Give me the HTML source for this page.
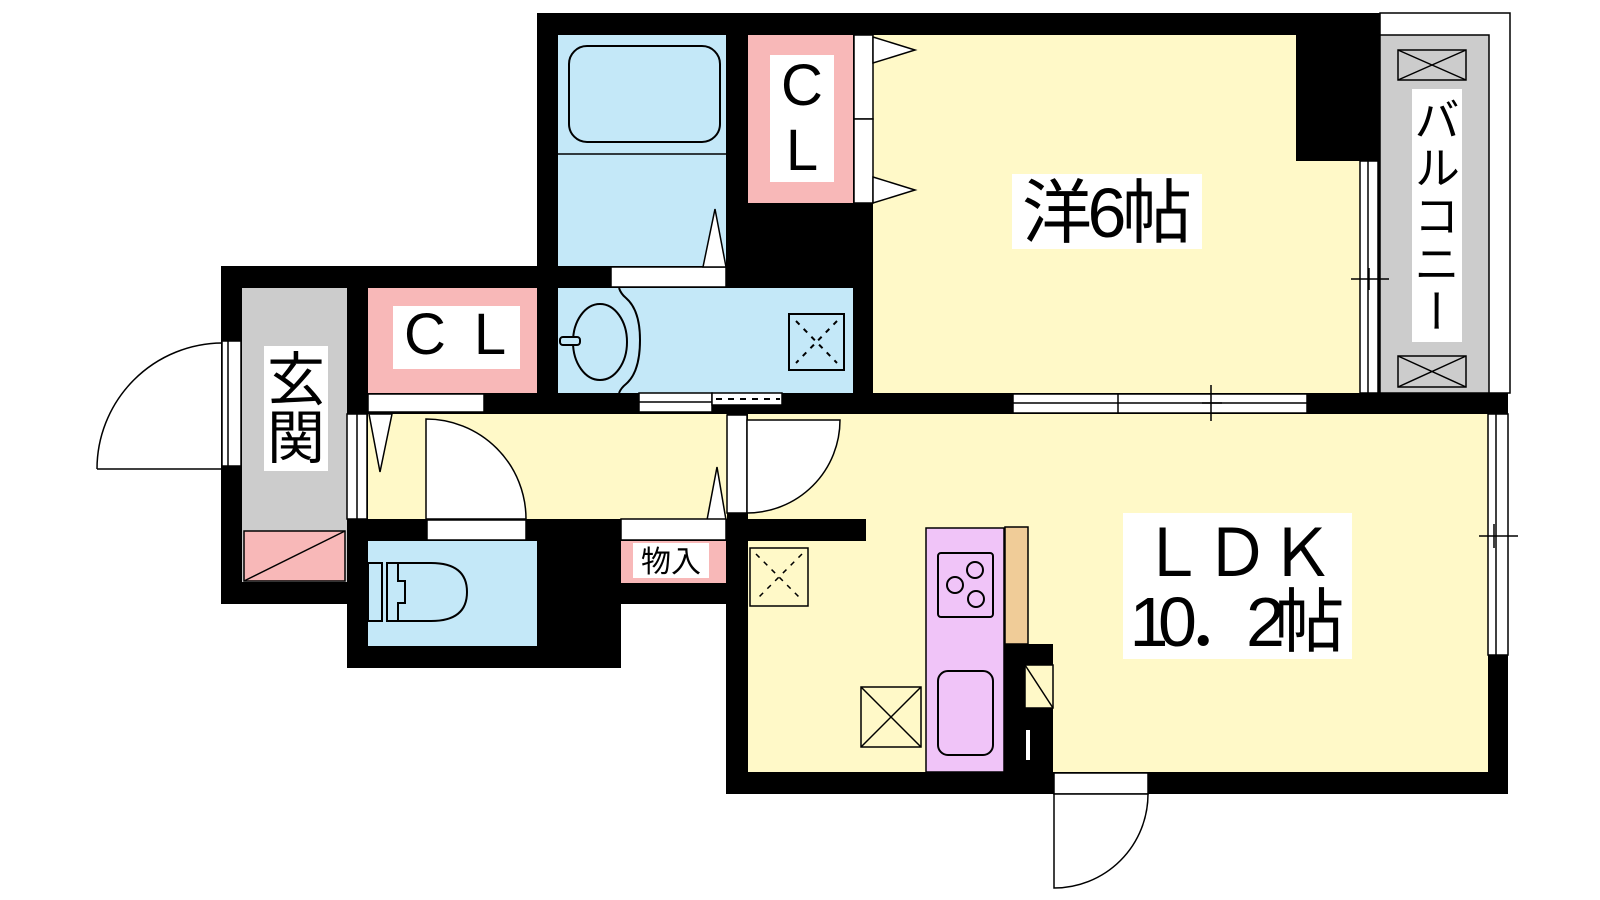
<!DOCTYPE html>
<html><head><meta charset="utf-8"><style>
html,body{margin:0;padding:0;background:#fff;width:1600px;height:900px;overflow:hidden}
svg{position:absolute;left:0;top:0}
.t{font-family:"Liberation Sans","Noto Sans CJK JP",sans-serif;fill:#000}
.vb{position:absolute;left:1412px;top:89px;width:50px;height:253px;background:#fff;writing-mode:vertical-rl;font-family:"Noto Sans CJK JP",sans-serif;font-size:46px;line-height:50px;text-align:center;color:#000;letter-spacing:2px}
</style></head><body>
<svg width="1600" height="900" viewBox="0 0 1600 900" xmlns="http://www.w3.org/2000/svg">
<!-- black walls -->
<g fill="#000">
<rect x="537" y="13" width="843" height="401"/>
<rect x="221" y="266" width="507" height="148"/>
<rect x="221" y="266" width="147" height="338"/>
<rect x="347" y="414" width="274" height="254"/>
<rect x="621" y="519" width="107" height="85"/>
<rect x="726" y="393" width="782" height="401"/>
</g>
<!-- balcony -->
<rect x="1380" y="13" width="130" height="380" fill="#fff" stroke="#000" stroke-width="1.5"/>
<rect x="1380" y="35" width="109" height="358" fill="#cccccc" stroke="#000" stroke-width="1.5"/>
<g fill="none" stroke="#000" stroke-width="1.5">
<rect x="1398" y="50" width="68" height="30"/><path d="M1398 50L1466 80M1466 50L1398 80"/>
<rect x="1398" y="356" width="68" height="31"/><path d="M1398 356L1466 387M1466 356L1398 387"/>
</g>
<!-- rooms -->
<rect x="558" y="35" width="168" height="231" fill="#c4e8f8"/>
<line x1="558" y1="154" x2="726" y2="154" stroke="#000" stroke-width="1.5"/>
<rect x="569" y="46" width="151" height="96" rx="18" fill="none" stroke="#000" stroke-width="2"/>
<rect x="748" y="35" width="105" height="168" fill="#f8b8b8"/>
<rect x="770" y="55" width="64" height="127" fill="#fff"/>
<text class="t" x="802" y="105" font-size="58" text-anchor="middle">C</text>
<text class="t" x="802" y="170" font-size="58" text-anchor="middle">L</text>
<rect x="873" y="35" width="423" height="358" fill="#fff9c8"/>
<rect x="1296" y="161" width="64" height="232" fill="#fff9c8"/>
<rect x="558" y="288" width="295" height="105" fill="#c4e8f8"/>
<rect x="242" y="288" width="105" height="294" fill="#cccccc"/>
<rect x="368" y="288" width="169" height="105" fill="#f8b8b8"/>
<rect x="368" y="414" width="359" height="105" fill="#fff9c8"/>
<rect x="368" y="541" width="169" height="105" fill="#c4e8f8"/>
<rect x="621" y="541" width="105" height="42" fill="#f8b8b8"/>
<rect x="748" y="414" width="740" height="358" fill="#fff9c8"/>
<rect x="726" y="519" width="140" height="22" fill="#000"/>
<!-- strips / windows -->
<g fill="#fff" stroke="#000" stroke-width="1.5">
<rect x="854" y="35" width="19" height="84"/><rect x="854" y="119" width="19" height="84"/>
<path d="M873 37L915 50L873 63Z"/><path d="M873 177L915 190L873 203Z"/>
<rect x="611" y="267" width="115" height="20"/>
<path d="M703 267L715 209L726 267Z"/>
<rect x="1360" y="161" width="18" height="232"/><line x1="1368" y1="161" x2="1368" y2="393"/>
<rect x="1013" y="394" width="294" height="19"/><line x1="1013" y1="403" x2="1307" y2="403"/><line x1="1118" y1="394" x2="1118" y2="413"/>
<rect x="1488" y="414" width="20" height="241"/><line x1="1496" y1="414" x2="1496" y2="655"/>
<rect x="368" y="394" width="116" height="18"/>
<rect x="639" y="393" width="73" height="19"/><line x1="639" y1="402" x2="712" y2="402"/>
<rect x="712" y="393" width="70" height="12"/>
<rect x="347" y="414" width="20" height="105"/><line x1="357" y1="414" x2="357" y2="519"/>
<rect x="222" y="341" width="19" height="125"/><line x1="228" y1="341" x2="228" y2="466"/>
<path d="M369 414L392 414L380 472Z"/>
<path d="M707 520L726 520L717 467Z"/>
<rect x="427" y="520" width="99" height="20"/>
<path d="M426 519L426 419A100 100 0 0 1 526 519Z"/>
<rect x="621" y="519" width="105" height="21"/>
<rect x="727" y="415" width="20" height="98"/>
<path d="M747 420L840 420A93 93 0 0 1 747 513Z"/>
<rect x="1054" y="773" width="94" height="21"/>
<path d="M1054 794L1148 794A94 94 0 0 1 1054 888Z"/>
</g>
<line x1="716" y1="399" x2="780" y2="399" stroke="#000" stroke-width="2" stroke-dasharray="6,6"/>
<!-- entrance door arc -->
<path d="M222 469L97 469M97 469A126 126 0 0 1 222 343" fill="none" stroke="#000" stroke-width="1.5"/>
<!-- crosshairs -->
<g stroke="#000" stroke-width="1.5">
<path d="M1351 279H1389M1369 268V290"/>
<path d="M1202 403H1222M1211 385V421"/>
<path d="M1479 536H1518M1494 524V548"/>
</g>
<!-- sink -->
<g fill="none" stroke="#000" stroke-width="2">
<ellipse cx="600" cy="342" rx="27" ry="38"/>
<rect x="560" y="337" width="20" height="8" rx="3" fill="#c4e8f8"/>
<path d="M619 288Q621 294 626 298Q640 310 640 340Q640 372 626 384Q621 388 619 393"/>
<rect x="789" y="314" width="55" height="56"/>
<path d="M796 321L837 363M837 321L796 363" stroke-dasharray="5,6"/>
</g>
<!-- shoebox -->
<rect x="244" y="531" width="101" height="50" fill="#f8b8b8" stroke="#000" stroke-width="1.5"/>
<line x1="244" y1="581" x2="345" y2="531" stroke="#000" stroke-width="1.5"/>
<!-- toilet -->
<g fill="none" stroke="#000" stroke-width="2">
<rect x="368" y="563" width="14" height="58"/>
<path d="M387 563H431Q467 563 467 592Q467 621 431 621H387Z"/>
<path d="M398 563V581H405V603H398V621"/>
</g>
<!-- kitchen -->
<g stroke="#000" stroke-width="1.5">
<rect x="750" y="548" width="58" height="58" fill="none"/>
<path d="M756 554L802 600M802 554L756 600" fill="none" stroke-dasharray="5,6"/>
<rect x="861" y="687" width="60" height="60" fill="none"/>
<path d="M861 687L921 747M921 687L861 747" fill="none"/>
<rect x="926" y="528" width="78" height="244" fill="#f0c4f8"/>
<rect x="938" y="553" width="55" height="64" rx="3" fill="none" stroke-width="2"/>
<rect x="938" y="671" width="55" height="84" rx="10" fill="none" stroke-width="2"/>
<g fill="none" stroke-width="2"><circle cx="975" cy="570" r="8"/><circle cx="955" cy="585" r="8"/><circle cx="976" cy="599" r="8"/></g>
<rect x="1005" y="527" width="23" height="117" fill="#f0cc98"/>
</g>
<rect x="1004" y="644" width="49" height="128" fill="#000"/>
<rect x="1025" y="665" width="28" height="43" fill="#fff9c8" stroke="#000" stroke-width="1.5"/>
<line x1="1025" y1="665" x2="1053" y2="708" stroke="#000" stroke-width="1.5"/>
<rect x="1026" y="730" width="4" height="30" fill="#fff"/>
<!-- labels -->
<rect x="264" y="346" width="64" height="125" fill="#fff"/>
<text class="t" x="296" y="400" font-size="58" text-anchor="middle">玄</text>
<text class="t" x="296" y="458" font-size="58" text-anchor="middle">関</text>
<rect x="393" y="306" width="127" height="63" fill="#fff"/>
<text class="t" x="425" y="354" font-size="58" text-anchor="middle">C</text>
<text class="t" x="490" y="354" font-size="58" text-anchor="middle">L</text>
<rect x="633" y="543" width="76" height="35" fill="#fff"/>
<text class="t" x="671" y="572" font-size="30" text-anchor="middle">物入</text>
<rect x="1012" y="174" width="190" height="75" fill="#fff"/>
<text class="t" x="1107" y="237" font-size="70" text-anchor="middle" textLength="170">洋6帖</text>
<rect x="1123" y="513" width="229" height="146" fill="#fff"/>
<text class="t" x="1237" y="576" font-size="66" text-anchor="middle" textLength="195">ＬＤＫ</text>
<text class="t" x="1237" y="646" font-size="70" text-anchor="middle" textLength="215">10．2帖</text>
</svg>
<div class="vb">バルコニー</div>
</body></html>
